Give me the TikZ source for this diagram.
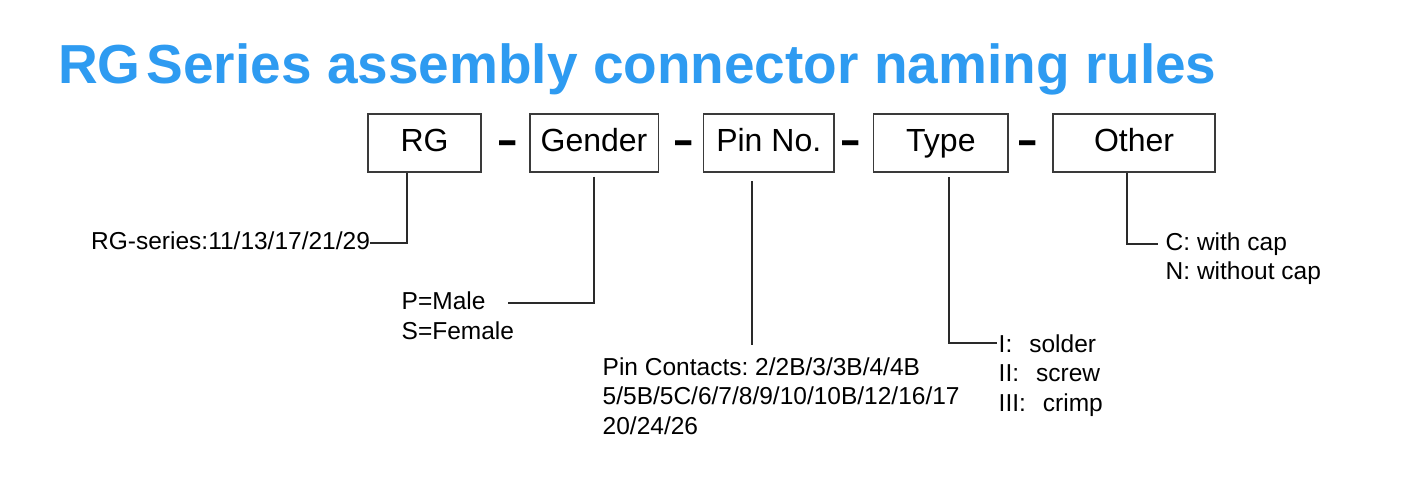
\documentclass[tikz,border=0pt]{standalone}
\usepackage{fontspec}
\setmainfont{Liberation Sans}
\frenchspacing
\definecolor{titleblue}{HTML}{2E9BF1}
\definecolor{boxgray}{HTML}{3A3A3A}
\definecolor{linegray}{HTML}{2A2A2A}
\tikzset{
  boxnode/.style={draw=boxgray, line width=1.5pt, inner sep=0pt, minimum height=58pt,
    text height=23pt, text depth=7pt, font=\fontsize{32}{36}\selectfont},
  dashnode/.style={inner sep=0pt, anchor=base, font=\fontsize{33}{36}\bfseries},
  lbl/.style={inner sep=0pt, anchor=base west, font=\fontsize{24.5}{28}\selectfont},
  conn/.style={draw=linegray, line width=1.8pt},
}
\begin{document}
\begin{tikzpicture}[x=1pt,y=-1pt]
\useasboundingbox (0,0) rectangle (1412,496);
% title
\node[inner sep=0pt, anchor=base west, text=titleblue, font=\fontsize{55}{60}\bfseries] (title) at (58,83) {RG\hspace{6pt}Series assembly connector naming rules};
% boxes
\node[boxnode, minimum width=113pt] (rgbox) at (424.5,143) {RG};
\node[boxnode, minimum width=128.5pt] (gbox) at (594,143) {Gender};
\node[boxnode, minimum width=130.5pt] (pbox) at (768.75,143) {Pin No.};
\node[boxnode, minimum width=134.3pt] (tbox) at (940.85,143) {Type};
\node[boxnode, minimum width=162.3pt] (obox) at (1134,143) {Other};
% dashes
\node[dashnode] (d1) at (508,156.4) {\scalebox{1}[1.5]{–}};
\node[dashnode] (d2) at (684,156.4) {\scalebox{1}[1.5]{–}};
\node[dashnode] (d3) at (851,156.4) {\scalebox{1}[1.5]{–}};
\node[dashnode] (d4) at (1028,156.4) {\scalebox{1}[1.5]{–}};
% labels
\node[lbl] (rg1) at (91,249.3) {RG-series:11/13/17/21/29};
\node[lbl] (g1) at (401.5,309) {P=Male};
\node[lbl] (g2) at (401.5,339) {S=Female};
\node[lbl] (p1) at (602.5,375) {Pin Contacts: 2/2B/3/3B/4/4B};
\node[lbl] (p2) at (602.5,404.5) {5/5B/5C/6/7/8/9/10/10B/12/16/17};
\node[lbl] (p3) at (602.5,434) {20/24/26};
\node[lbl] (t1) at (998.5,352.3) {I:\hspace{17pt}solder};
\node[lbl] (t2) at (998.5,381.7) {II:\hspace{17pt}screw};
\node[lbl] (t3) at (998.5,411.2) {III:\hspace{17pt}crimp};
\node[lbl] (o1) at (1165.5,250) {C: with cap};
\node[lbl] (o2) at (1165.5,279) {N: without cap};
% connector coordinates
\coordinate (rgturn) at (406.6,243.3);
\coordinate (gtop) at (594,176.7);
\coordinate (gturn) at (594,302.7);
\coordinate (gend) at (507.7,302.7);
\coordinate (ptop) at (751.6,181);
\coordinate (pbot) at (751.6,345);
\coordinate (ttop) at (948.7,177);
\coordinate (tturn) at (948.7,342.7);
\coordinate (tend) at (997,342.7);
\coordinate (oturn) at (1127,244);
\coordinate (oend) at (1157.6,244);
% connectors
\draw[conn] (rgbox.south -| rgturn) -- (rgturn) -- (rg1.east |- rgturn);
\draw[conn] (gtop) -- (gturn) -- (gend);
\draw[conn] (ptop) -- (pbot);
\draw[conn] (ttop) -- (tturn) -- (tend);
\draw[conn] (obox.south -| oturn) -- (oturn) -- (oend);
\end{tikzpicture}
\end{document}
